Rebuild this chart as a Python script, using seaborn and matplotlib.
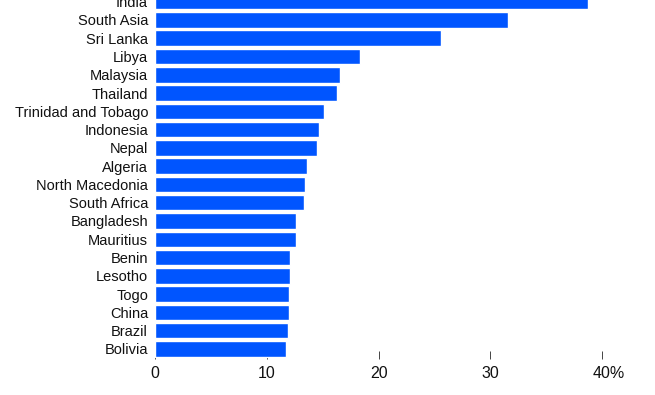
import matplotlib
matplotlib.use("Agg")
import matplotlib.pyplot as plt
import matplotlib.transforms as mtransforms
import pandas as pd
import seaborn as sns

countries = [
    "India", "South Asia", "Sri Lanka", "Libya", "Malaysia", "Thailand",
    "Trinidad and Tobago", "Indonesia", "Nepal", "Algeria", "North Macedonia",
    "South Africa", "Bangladesh", "Mauritius", "Benin", "Lesotho", "Togo",
    "China", "Brazil", "Bolivia",
]
values = [
    38.7, 31.6, 25.6, 18.3, 16.5, 16.3,
    15.1, 14.7, 14.5, 13.6, 13.4,
    13.3, 12.6, 12.6, 12.1, 12.05, 12.0,
    11.95, 11.9, 11.7,
]
xticks = [0, 10, 20, 30, 40]
xtick_labels = ["0", "10", "20", "30", "40%"]

df = pd.DataFrame({"country": countries, "value": values})

sns.set_theme(style="white")
plt.rcParams["font.family"] = ["Liberation Sans", "DejaVu Sans"]

fig = plt.figure(figsize=(6.55, 3.95), dpi=100)
ax = fig.add_axes([155 / 655, 1 - 359 / 395, (647 - 155) / 655, 359 / 395])

sns.barplot(data=df, x="value", y="country", color="#0055ff", saturation=1,
            width=0.85, ax=ax)

ax.set_xlim(0, 44)
ax.set_ylim(19.55, -0.09)
ax.set_xticks(xticks)
ax.set_xticklabels(xtick_labels)
ax.set_xlabel("")
ax.set_ylabel("")
for s in ax.spines.values():
    s.set_visible(False)
ax.set_axisbelow(True)
ax.tick_params(axis="x", bottom=True, direction="in", length=6, width=0.7,
               color="#444444", labelsize=11.5, labelcolor="#111111", pad=5)
ax.tick_params(axis="y", left=False, length=0, labelsize=10.5,
               labelcolor="#111111", pad=5)

# keep the "40" over its tick, with the % sign hanging to the right
last = ax.get_xticklabels()[-1]
last.set_transform(last.get_transform()
                   + mtransforms.ScaledTranslation(0.06, 0, fig.dpi_scale_trans))

fig.savefig("out.png", dpi=100)
